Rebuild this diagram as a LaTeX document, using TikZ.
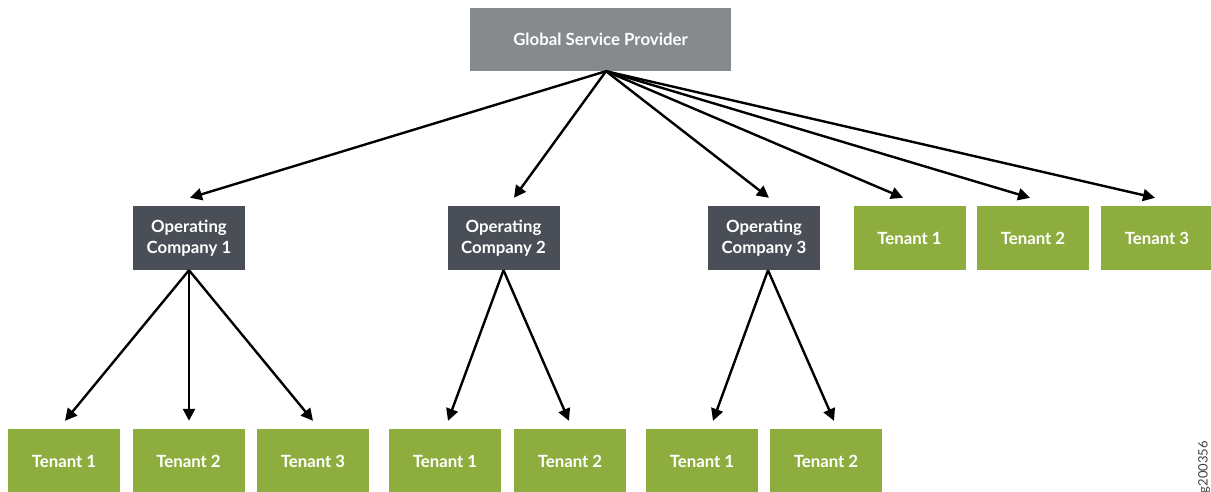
\documentclass[tikz,border=0pt]{standalone}
\usepackage{fontspec}
\setmainfont{Lato}
\usetikzlibrary{arrows.meta}

\definecolor{gspgray}{HTML}{878A8D}
\definecolor{opslate}{HTML}{4A4F57}
\definecolor{tengreen}{HTML}{8DAE3F}

\tikzset{
  box/.style={minimum height=64pt, inner sep=0pt, text=white, align=center,
    font=\fontsize{16.8}{20.5}\selectfont\bfseries},
  gspbox/.style={box, fill=gspgray, minimum width=261pt, minimum height=63pt},
  opbox/.style={box, fill=opslate, minimum width=112pt},
  tenbox/.style={box, fill=tengreen, minimum width=112pt},
  arr/.style={-{Triangle[length=12pt,width=12pt]}, line width=2.4pt},
}

\begin{document}
\begin{tikzpicture}[x=1pt, y=-1pt]
  \useasboundingbox (0,0) rectangle (1211,491);
  \clip (0,0) rectangle (1211,491);

  % provider and operating companies
  \node[gspbox] (gsp) at (600.5,39.5) {Global Service Provider};
  \node[opbox] (oc1) at (189,238)   {Operating\\Company 1};
  \node[opbox] (oc2) at (503.5,238) {Operating\\Company 2};
  \node[opbox] (oc3) at (764,238)   {Operating\\Company 3};

  % tenants held by the provider itself
  \foreach \n/\x in {1/909.5, 2/1033, 3/1157}
    \node[tenbox] (gt\n) at (\x,238) {Tenant \n};

  % tenants of each operating company
  \foreach \n/\x in {1/64, 2/188.5, 3/313}
    \node[tenbox] (at\n) at (\x,461) {Tenant \n};
  \foreach \n/\x in {1/445, 2/570}
    \node[tenbox] (bt\n) at (\x,461) {Tenant \n};
  \foreach \n/\x in {1/702, 2/826}
    \node[tenbox] (ct\n) at (\x,461) {Tenant \n};

  \coordinate (hub) at ([xshift=5.5pt]gsp.south);
  \draw[arr] (hub) -- ([xshift=1pt,yshift=8pt]oc1.north);
  \draw[arr] (hub) -- ([xshift=10.5pt,yshift=8pt]oc2.north);
  \draw[arr] (hub) -- ([xshift=5pt,yshift=8pt]oc3.north);
  \draw[arr] (hub) -- ([xshift=-6.5pt,yshift=8pt]gt1.north);
  \draw[arr] (hub) -- ([xshift=-3pt,yshift=8pt]gt2.north);
  \draw[arr] (hub) -- ([xshift=-2pt,yshift=8pt]gt3.north);

  \draw[arr] (oc1.south) -- ([xshift=1pt,yshift=8pt]at1.north);
  \draw[arr] (oc1.south) -- ([xshift=0.5pt,yshift=8pt]at2.north);
  \draw[arr] (oc1.south) -- ([yshift=8pt]at3.north);
  \draw[arr] (oc2.south) -- ([xshift=3pt,yshift=8pt]bt1.north);
  \draw[arr] (oc2.south) -- ([xshift=-1pt,yshift=8pt]bt2.north);
  \draw[arr] ([xshift=4pt]oc3.south) -- ([xshift=11pt,yshift=8pt]ct1.north);
  \draw[arr] ([xshift=4pt]oc3.south) -- ([xshift=8pt,yshift=8pt]ct2.north);

  \node[rotate=90, text=black!75, font=\fontsize{13}{13}\selectfont] (fig) at (1204,467) {g200356};
\end{tikzpicture}
\end{document}
